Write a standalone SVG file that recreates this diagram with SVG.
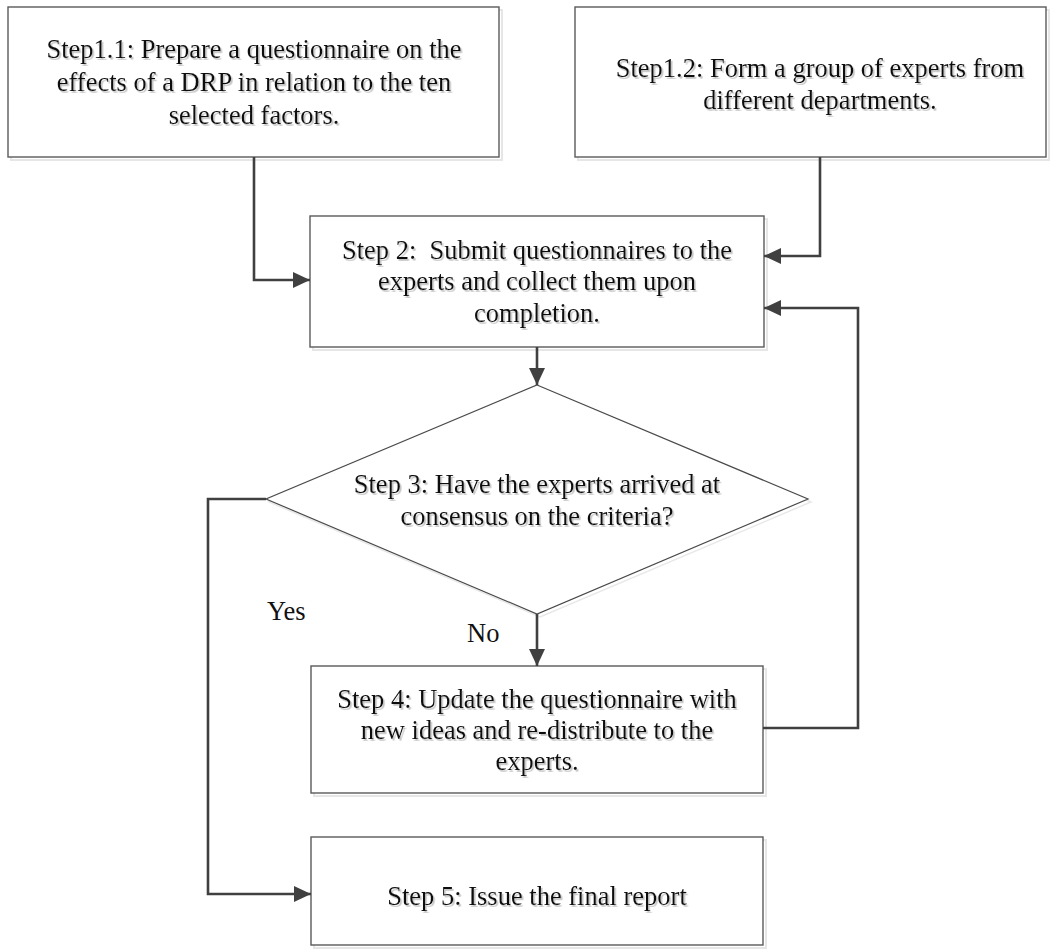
<svg xmlns="http://www.w3.org/2000/svg" width="1053" height="950" viewBox="0 0 1053 950">
  <style>
    .box { fill: #ffffff; stroke: #5a5a5a; stroke-width: 1.4; }
    .shade { fill: none; stroke: #e6e6e6; stroke-width: 2; }
    .dia { fill: #ffffff; stroke: #4a4a4a; stroke-width: 1.2; }
    .lbl { font-family: "Liberation Serif", "Times New Roman", serif; font-size: 26.5px; fill: #111111; text-anchor: middle; filter: url(#tshadow); }
    .tag { font-family: "Liberation Serif", "Times New Roman", serif; font-size: 26.5px; fill: #111111; }
    .wire { fill: none; stroke: #404040; stroke-width: 2.6; stroke-linejoin: miter; }
  </style>
  <defs>
    <marker id="arrow" markerUnits="userSpaceOnUse" markerWidth="17" markerHeight="16" refX="17" refY="8" orient="auto">
      <path d="M0,0 L17,8 L0,16 Z" fill="#404040"/>
    </marker>
    <filter id="tshadow" x="-5%" y="-20%" width="110%" height="150%">
      <feDropShadow dx="1.6" dy="1.8" stdDeviation="0.7" flood-color="#bdbdbd" flood-opacity="0.9"/>
    </filter>
  </defs>

  <rect width="1053" height="950" fill="#ffffff"/>

  <!-- Step 1.1 -->
  <g id="step1-1">
    <rect class="shade" x="11" y="10" width="491" height="150"/>
    <rect class="box" x="8" y="7" width="491" height="150"/>
    <text class="lbl" x="254" y="58">Step1.1: Prepare a questionnaire on the</text>
    <text class="lbl" x="254" y="91">effects of a DRP in relation to the ten</text>
    <text class="lbl" x="254" y="124">selected factors.</text>
  </g>

  <!-- Step 1.2 -->
  <g id="step1-2">
    <rect class="shade" x="578" y="10" width="471" height="150"/>
    <rect class="box" x="575" y="7" width="471" height="150"/>
    <text class="lbl" x="820" y="77">Step1.2: Form a group of experts from</text>
    <text class="lbl" x="820" y="109">different departments.</text>
  </g>

  <!-- Step 2 -->
  <g id="step2">
    <rect class="shade" x="313" y="219" width="454" height="131"/>
    <rect class="box" x="310" y="216" width="454" height="131"/>
    <text class="lbl" x="537" y="259" xml:space="preserve">Step 2:  Submit questionnaires to the</text>
    <text class="lbl" x="537" y="290">experts and collect them upon</text>
    <text class="lbl" x="537" y="322">completion.</text>
  </g>

  <!-- Step 3 decision -->
  <g id="step3">
    <polygon points="540,388 811,502 540,617 269,502" fill="none" stroke="#e8e8e8" stroke-width="1.5"/>
    <polygon class="dia" points="537,385 808,499 537,614 266,499"/>
    <text class="lbl" x="537" y="493">Step 3: Have the experts arrived at</text>
    <text class="lbl" x="537" y="525">consensus on the criteria?</text>
  </g>

  <!-- Step 4 -->
  <g id="step4">
    <rect class="shade" x="314" y="669" width="452" height="127"/>
    <rect class="box" x="311" y="666" width="452" height="127"/>
    <text class="lbl" x="537" y="708">Step 4: Update the questionnaire with</text>
    <text class="lbl" x="537" y="739">new ideas and re-distribute to the</text>
    <text class="lbl" x="537" y="770">experts.</text>
  </g>

  <!-- Step 5 -->
  <g id="step5">
    <rect class="shade" x="314" y="840" width="452" height="108"/>
    <rect class="box" x="311" y="837" width="452" height="108"/>
    <text class="lbl" x="537" y="905">Step 5: Issue the final report</text>
  </g>

  <!-- Branch labels -->
  <g id="branch-labels">
    <text class="tag" x="267" y="620">Yes</text>
    <text class="tag" x="467" y="642">No</text>
  </g>

  <!-- Connectors -->
  <g id="connectors">
    <polyline class="wire" points="254,157 254,280 310,280" marker-end="url(#arrow)"/>
    <polyline class="wire" points="820,157 820,256 764,256" marker-end="url(#arrow)"/>
    <polyline class="wire" points="537,347 537,385" marker-end="url(#arrow)"/>
    <polyline class="wire" points="537,614 537,666" marker-end="url(#arrow)"/>
    <polyline class="wire" points="763,728 858,728 858,308 764,308" marker-end="url(#arrow)"/>
    <polyline class="wire" points="266,499 208,499 208,894 311,894" marker-end="url(#arrow)"/>
  </g>
</svg>
